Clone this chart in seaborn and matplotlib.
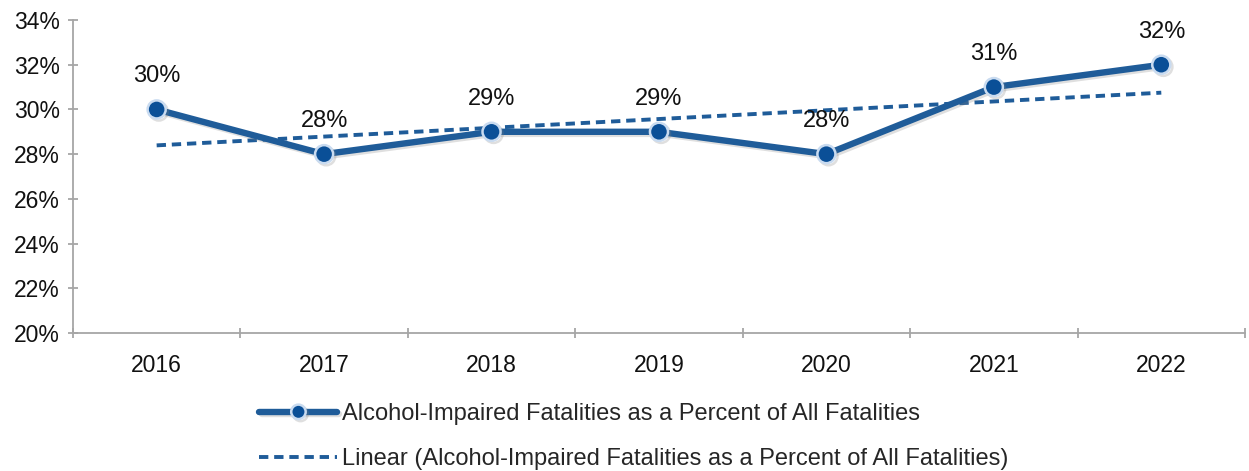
import numpy as np
import pandas as pd
import matplotlib
matplotlib.use("Agg")
import matplotlib.pyplot as plt
import matplotlib.patheffects as pe
from matplotlib.ticker import FixedLocator, PercentFormatter
import seaborn as sns

years = ["2016", "2017", "2018", "2019", "2020", "2021", "2022"]
values = [30, 28, 29, 29, 28, 31, 32]
y_ticks = [20, 22, 24, 26, 28, 30, 32, 34]
series_label = "Alcohol-Impaired Fatalities as a Percent of All Fatalities"
trend_label = "Linear (Alcohol-Impaired Fatalities as a Percent of All Fatalities)"

sns.set_theme(style="white")
plt.rcParams["font.family"] = ["Liberation Sans", "DejaVu Sans"]

df = pd.DataFrame({"pos": np.arange(len(years)), "year": years, "value": values})

fig = plt.figure(figsize=(12.49, 4.71), dpi=100)
ax = fig.add_axes([0.0584, 0.293, 0.9384, 0.6645])

line_color = "#1F5C99"
sns.regplot(data=df, x="pos", y="value", ax=ax, scatter=False, ci=None, truncate=True,
            line_kws=dict(color=line_color, lw=2.8, linestyle=(0, (2.4, 1.5)), zorder=2))
trend_line = ax.lines[-1]
trend_line.set_label(trend_label)
sns.lineplot(data=df, x="pos", y="value", ax=ax, color=line_color, lw=4.6, marker="o",
             markersize=13, markerfacecolor="#0A4F97", markeredgecolor="#C9DBF0",
             markeredgewidth=1.8, zorder=3,
             path_effects=[pe.SimpleLineShadow(offset=(1.5, -1.5), alpha=0.25, shadow_color="gray"), pe.Normal()])
main_line = ax.lines[-1]
main_line.set_label(series_label)

for x, v in zip(df["pos"], df["value"]):
    ax.annotate(f"{v}%", (x, v), xytext=(0, 16), textcoords="offset points",
                ha="center", va="bottom", fontsize=17, color="#111111")

ax.set_xlim(-0.5, len(years) - 0.5)
ax.set_ylim(20, 34)
ax.set_yticks(y_ticks)
ax.yaxis.set_major_formatter(PercentFormatter(decimals=0))
ax.set_xticks(df["pos"])
ax.set_xticklabels(years)
ax.xaxis.set_minor_locator(FixedLocator(np.arange(-0.5, len(years), 1.0)))
ax.tick_params(axis="x", which="major", length=0, labelsize=16.5, pad=15, colors="#111111")
ax.tick_params(axis="x", which="minor", length=7, width=1.3, color="#A6A6A6", bottom=True, direction="inout")
ax.tick_params(axis="y", which="major", length=7, width=1.3, color="#A6A6A6", labelsize=16.5, left=True,
               direction="inout", pad=6, labelcolor="#111111")
ax.set_xlabel("")
ax.set_ylabel("")
for s in ["top", "right"]:
    ax.spines[s].set_visible(False)
for s in ["left", "bottom"]:
    ax.spines[s].set_color("#A6A6A6")
    ax.spines[s].set_linewidth(1.3)
ax.grid(False)
if ax.get_legend() is not None:
    ax.get_legend().remove()

fig.legend([main_line, trend_line], [series_label, trend_label], loc="lower center",
           bbox_to_anchor=(0.5076, -0.043), frameon=False, fontsize=17, handlelength=3.3,
           handletextpad=0.2, labelspacing=0.97, markerscale=0.8)

fig.savefig("out.png", dpi=100)
